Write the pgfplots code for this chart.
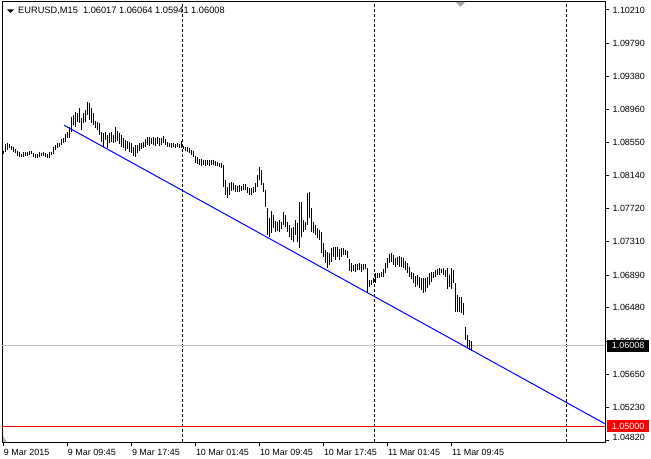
\documentclass[border=0pt]{standalone}
\usepackage{fontspec}
\setmainfont{Liberation Sans}
\usepackage{pgfplots}
\usepackage{pgfplotstable}
\pgfplotsset{compat=1.18}
\definecolor{mtgrey}{RGB}{192,192,192}
\definecolor{mtblue}{RGB}{0,0,255}
\definecolor{mtred}{RGB}{255,0,0}
\pgfplotstableread{
i h l
0 1.08444 1.08407
1 1.08532 1.08432
2 1.08544 1.08457
3 1.08532 1.08482
4 1.08507 1.08457
5 1.08494 1.08432
6 1.08469 1.08419
7 1.08444 1.08382
8 1.08432 1.08369
9 1.08407 1.08369
10 1.08432 1.08369
11 1.08432 1.08382
12 1.08432 1.08382
13 1.08444 1.08394
14 1.08444 1.08407
15 1.08419 1.08369
16 1.08407 1.08357
17 1.08407 1.08357
18 1.08432 1.08369
19 1.08419 1.08382
20 1.08432 1.08382
21 1.08419 1.08369
22 1.08407 1.08357
23 1.08432 1.08357
24 1.08432 1.08394
25 1.08494 1.08407
26 1.08519 1.08457
27 1.08544 1.08482
28 1.08544 1.08494
29 1.08594 1.08519
30 1.08607 1.08544
31 1.08657 1.08557
32 1.08682 1.08607
33 1.08745 1.08607
34 1.08870 1.08682
35 1.08895 1.08770
36 1.08933 1.08745
37 1.08920 1.08808
38 1.08983 1.08795
39 1.08858 1.08707
40 1.08920 1.08795
41 1.08958 1.08808
42 1.09058 1.08895
43 1.09045 1.08833
44 1.08983 1.08795
45 1.08920 1.08770
46 1.08820 1.08733
47 1.08808 1.08707
48 1.08795 1.08645
49 1.08682 1.08557
50 1.08670 1.08494
51 1.08682 1.08582
52 1.08645 1.08482
53 1.08670 1.08544
54 1.08682 1.08557
55 1.08645 1.08544
56 1.08745 1.08557
57 1.08695 1.08569
58 1.08670 1.08532
59 1.08645 1.08494
60 1.08607 1.08482
61 1.08582 1.08444
62 1.08569 1.08469
63 1.08557 1.08432
64 1.08544 1.08419
65 1.08494 1.08382
66 1.08519 1.08369
67 1.08519 1.08419
68 1.08544 1.08444
69 1.08544 1.08469
70 1.08557 1.08482
71 1.08594 1.08494
72 1.08620 1.08519
73 1.08620 1.08507
74 1.08607 1.08532
75 1.08620 1.08519
76 1.08607 1.08507
77 1.08620 1.08532
78 1.08607 1.08507
79 1.08607 1.08519
80 1.08632 1.08544
81 1.08594 1.08519
82 1.08557 1.08494
83 1.08544 1.08494
84 1.08544 1.08482
85 1.08544 1.08494
86 1.08532 1.08482
87 1.08544 1.08494
88 1.08532 1.08482
89 1.08569 1.08482
90 1.08507 1.08469
91 1.08494 1.08444
92 1.08494 1.08432
93 1.08482 1.08419
94 1.08457 1.08394
95 1.08444 1.08369
96 1.08382 1.08294
97 1.08369 1.08282
98 1.08344 1.08269
99 1.08344 1.08257
100 1.08332 1.08269
101 1.08332 1.08257
102 1.08332 1.08269
103 1.08332 1.08257
104 1.08332 1.08269
105 1.08332 1.08269
106 1.08319 1.08257
107 1.08307 1.08257
108 1.08294 1.08244
109 1.08294 1.08232
110 1.08269 1.07993
111 1.08081 1.07893
112 1.07993 1.07856
113 1.08043 1.07893
114 1.08056 1.07943
115 1.08043 1.07956
116 1.08018 1.07931
117 1.08006 1.07931
118 1.08018 1.07931
119 1.08006 1.07943
120 1.08031 1.07956
121 1.08031 1.07956
122 1.07993 1.07918
123 1.07981 1.07893
124 1.07981 1.07893
125 1.07993 1.07918
126 1.08043 1.07931
127 1.08143 1.07993
128 1.08244 1.08081
129 1.08206 1.08018
130 1.08043 1.07931
131 1.07956 1.07743
132 1.07731 1.07392
133 1.07606 1.07367
134 1.07693 1.07417
135 1.07643 1.07480
136 1.07568 1.07430
137 1.07555 1.07442
138 1.07580 1.07430
139 1.07555 1.07467
140 1.07681 1.07518
141 1.07643 1.07493
142 1.07555 1.07430
143 1.07518 1.07367
144 1.07480 1.07330
145 1.07493 1.07305
146 1.07580 1.07392
147 1.07543 1.07305
148 1.07806 1.07230
149 1.07806 1.07367
150 1.07580 1.07430
151 1.07555 1.07455
152 1.07918 1.07518
153 1.07931 1.07606
154 1.07731 1.07430
155 1.07555 1.07417
156 1.07518 1.07392
157 1.07480 1.07355
158 1.07455 1.07330
159 1.07430 1.07167
160 1.07292 1.07117
161 1.07205 1.07042
162 1.07180 1.06980
163 1.07167 1.07017
164 1.07230 1.07055
165 1.07242 1.07117
166 1.07242 1.07080
167 1.07242 1.07117
168 1.07217 1.07080
169 1.07230 1.07117
170 1.07230 1.07142
171 1.07205 1.07142
172 1.07192 1.07105
173 1.07092 1.06942
174 1.07042 1.06929
175 1.07017 1.06942
176 1.07030 1.06929
177 1.07030 1.06954
178 1.07042 1.06954
179 1.07030 1.06929
180 1.07030 1.06954
181 1.07030 1.06967
182 1.06980 1.06679
183 1.06829 1.06741
184 1.06829 1.06766
185 1.06854 1.06791
186 1.06917 1.06791
187 1.06917 1.06854
188 1.06917 1.06854
189 1.06929 1.06867
190 1.06967 1.06867
191 1.07042 1.06917
192 1.07105 1.06980
193 1.07155 1.07042
194 1.07167 1.07055
195 1.07142 1.07017
196 1.07105 1.06992
197 1.07117 1.07017
198 1.07130 1.06992
199 1.07117 1.06992
200 1.07105 1.06980
201 1.07067 1.06954
202 1.07042 1.06917
203 1.06992 1.06867
204 1.06929 1.06842
205 1.06917 1.06791
206 1.06879 1.06741
207 1.06892 1.06766
208 1.06867 1.06729
209 1.06854 1.06704
210 1.06854 1.06667
211 1.06854 1.06679
212 1.06867 1.06729
213 1.06917 1.06766
214 1.06929 1.06804
215 1.06929 1.06854
216 1.06954 1.06867
217 1.06967 1.06892
218 1.06980 1.06892
219 1.06967 1.06917
220 1.06980 1.06892
221 1.06954 1.06867
222 1.06980 1.06717
223 1.06892 1.06741
224 1.06980 1.06717
225 1.06954 1.06791
226 1.06791 1.06429
227 1.06642 1.06429
228 1.06617 1.06429
229 1.06617 1.06417
230 1.06542 1.06392
231 1.06241 1.06078
232 1.06141 1.05978
233 1.06078 1.05953
234 1.06064 1.05941
}\bars

\begin{document}
\begin{tikzpicture}
\path[use as bounding box] (-2bp,-17bp) rectangle (649bp,442bp);
\begin{axis}[
  at={(0,0)}, anchor=south west,
  scale only axis, width=603bp, height=440bp,
  xmin=-0.65, xmax=300.85, ymin=1.04801, ymax=1.10310,
  clip=false,
  axis line style={black, line width=1bp},
  tick style={black, line width=1bp},
  major tick length=4bp,
  tick align=outside,
  xtick pos=bottom, ytick pos=right, yticklabel pos=right,
  xtick={0,32,64,96,128,160,192,224},
  xticklabels={9 Mar 2015, 9 Mar 09:45, 9 Mar 17:45, 10 Mar 01:45, 10 Mar 09:45, 10 Mar 17:45, 11 Mar 01:45, 11 Mar 09:45},
  ytick={1.10210,1.09790,1.09380,1.08960,1.08550,1.08140,1.07720,1.07310,1.06890,1.06480,1.06060,1.05650,1.05230},
  yticklabels={1.10210,1.09790,1.09380,1.08960,1.08550,1.08140,1.07720,1.07310,1.06890,1.06480,1.06060,1.05650,1.05230},
  extra y ticks={1.04820}, extra y tick labels={1.04820},
  extra y tick style={yticklabel style={yshift=3bp}},
  scaled y ticks=false,
  ticklabel style={font=\fontsize{9}{10}\selectfont},
  xticklabel style={anchor=north west, inner xsep=0.5bp},
]
% period separators
\draw[black, line width=1bp, dash pattern=on 3bp off 2bp] (axis cs:89.5,1.04801) -- (axis cs:89.5,1.10310);
\draw[black, line width=1bp, dash pattern=on 3bp off 2bp] (axis cs:185.4,1.04801) -- (axis cs:185.4,1.10310);
\draw[black, line width=1bp, dash pattern=on 3bp off 2bp] (axis cs:281.4,1.04801) -- (axis cs:281.4,1.10310);
% horizontal lines
\draw[mtgrey, line width=1bp] (axis cs:-0.65,1.06008) -- (axis cs:300.85,1.06008);
\draw[mtred, line width=1bp] (axis cs:-0.65,1.05) -- (axis cs:300.85,1.05);
% bars
\addplot[forget plot, draw=none, mark=none,
  error bars/.cd, y dir=minus, y explicit, error mark=none,
  error bar style={draw=black, line width=1bp, solid}]
  table[x=i, y=h, y error expr=\thisrow{h}-\thisrow{l}] {\bars};
% trend line
\addplot[mtblue, line width=1bp] coordinates {(30.35,1.08768) (300.85,1.05029)};
% price labels
\node[fill=black, text=white, anchor=west, minimum height=12bp, minimum width=42bp, inner sep=0pt, font=\fontsize{9}{10}\selectfont, xshift=2bp] at (axis cs:300.85,1.06008) {1.06008};
\node[fill=mtred, text=white, anchor=west, minimum height=12bp, minimum width=42bp, inner sep=0pt, font=\fontsize{9}{10}\selectfont, xshift=2bp] at (axis cs:300.85,1.05) {1.05000};
% title
\fill[black, shift={(rel axis cs:0,1)}] (5bp,-7.5bp) -- (12bp,-7.5bp) -- (8.5bp,-11bp) -- cycle;
\node[anchor=west, inner sep=0pt, font=\fontsize{9.3}{10}\selectfont, xshift=16bp, yshift=-9bp] at (rel axis cs:0,1) {EURUSD,M15\ \ 1.06017 1.06064 1.05941 1.06008};
% chart shift markers
\fill[gray!70, shift={(rel axis cs:0,1)}] (454bp,0bp) -- (463bp,0bp) -- (458.5bp,-5bp) -- cycle;
\fill[gray!60, shift={(rel axis cs:0,0)}] (1bp,0bp) -- (5bp,0bp) -- (1bp,6bp) -- cycle;
\end{axis}
\end{tikzpicture}
\end{document}
